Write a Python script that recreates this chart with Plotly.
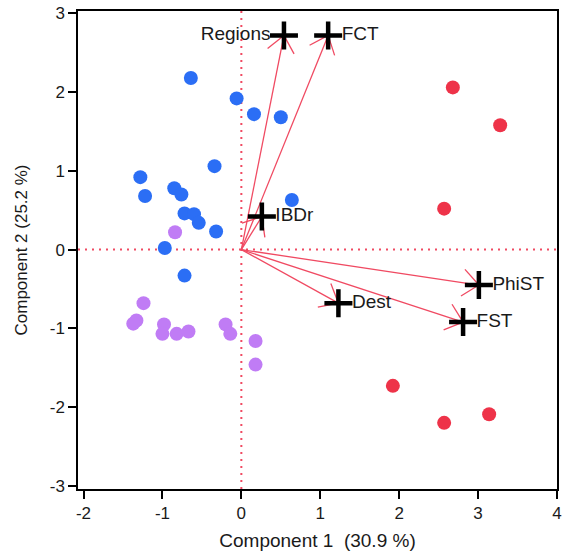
import math
import plotly.graph_objects as go

# ---- data ----
blue_x = [-0.64, -0.06, 0.16, 0.50, -0.34, -1.28, -1.22, -0.85, -0.76, -0.72, -0.60, -0.54, -0.32, -0.97, -0.72, 0.64]
blue_y = [2.18, 1.92, 1.72, 1.68, 1.06, 0.92, 0.68, 0.78, 0.70, 0.46, 0.45, 0.34, 0.23, 0.02, -0.33, 0.63]

purple_x = [-0.84, -1.24, -1.33, -1.37, -0.98, -1.00, -0.82, -0.67, -0.20, -0.14, 0.18, 0.18]
purple_y = [0.22, -0.68, -0.90, -0.94, -0.95, -1.07, -1.07, -1.04, -0.95, -1.07, -1.16, -1.46]

red_x = [2.68, 3.28, 2.57, 1.92, 2.57, 3.14]
red_y = [2.06, 1.58, 0.52, -1.73, -2.20, -2.09]

vec_names = ["Regions", "FCT", "IBDr", "PhiST", "Dest", "FST"]
vec_x = [0.54, 1.10, 0.26, 3.01, 1.23, 2.81]
vec_y = [2.72, 2.72, 0.42, -0.45, -0.68, -0.92]
vec_textpos = ["middle left", "middle right", "middle right", "middle right", "middle right", "middle right"]

x_ticks = [-2, -1, 0, 1, 2, 3, 4]
x_ticktext = ["-2", "-1", "0", "1", "2", "3", "4"]
y_ticks = [-3, -2, -1, 0, 1, 2, 3]
y_ticktext = ["-3", "-2", "-1", "0", "1", "2", "3"]

x_title = "Component 1\u00a0\u00a0(30.9\u00a0%)"
y_title = "Component 2 (25.2\u00a0%)"

# ---- layout geometry ----
W, H = 566, 559
ML, MR, MT, MB = 78, 9, 11, 70
XR = [-2.07, 4.0]
YR = [-3.04, 3.03]
px_x = (W - ML - MR) / (XR[1] - XR[0])
px_y = (H - MT - MB) / (YR[1] - YR[0])

BLUE = "#2b6ef5"
PURPLE = "#c07cf5"
RED = "#ee3349"
ARROW = "#f04a62"
TXT = "#1a1a1a"
FONT = "Liberation Sans, Arial, sans-serif"

# ---- arrows (shaft + open head) ----
head_len = 21.0
head_ang = math.radians(40)
ax, ay = [], []
for vx, vy in zip(vec_x, vec_y):
    ax += [0, vx, None]
    ay += [0, vy, None]
    th = math.atan2(vy * px_y, vx * px_x)
    for s in (1, -1):
        a = th + s * head_ang
        ex = vx - head_len * math.cos(a) / px_x
        ey = vy - head_len * math.sin(a) / px_y
        ax += [ex, vx, None]
        ay += [ey, vy, None]

fig = go.Figure()

mk = dict(size=14, line=dict(width=0))
fig.add_trace(go.Scatter(x=blue_x, y=blue_y, mode="markers", marker=dict(color=BLUE, **mk), hoverinfo="skip"))
fig.add_trace(go.Scatter(x=purple_x, y=purple_y, mode="markers", marker=dict(color=PURPLE, **mk), hoverinfo="skip"))
fig.add_trace(go.Scatter(x=red_x, y=red_y, mode="markers", marker=dict(color=RED, **mk), hoverinfo="skip"))

fig.add_trace(go.Scatter(x=ax, y=ay, mode="lines", line=dict(color=ARROW, width=1.3), hoverinfo="skip"))

fig.add_trace(go.Scatter(
    x=vec_x, y=vec_y, mode="markers+text", text=vec_names, textposition=vec_textpos,
    marker=dict(symbol="cross-thin", size=20, color="black", line=dict(width=4.5, color="black")),
    textfont=dict(size=19, color=TXT, family=FONT), hoverinfo="skip"))

fig.add_shape(type="line", xref="x", yref="paper", x0=0, x1=0, y0=0, y1=1,
              line=dict(color=ARROW, width=2, dash="2px,5px"), layer="below")
fig.add_shape(type="line", xref="paper", yref="y", x0=0, x1=1, y0=0, y1=0,
              line=dict(color=ARROW, width=2, dash="2px,5px"), layer="below")

axis_common = dict(showgrid=False, zeroline=False, showline=True, mirror=True,
                   linecolor="black", linewidth=1.5, ticks="outside", ticklen=8,
                   tickwidth=1.5, tickcolor="black", automargin=False,
                   ticklabeloverflow="allow",
                   tickfont=dict(size=17, color=TXT, family=FONT))

fig.update_layout(
    width=W, height=H, showlegend=False,
    paper_bgcolor="white", plot_bgcolor="white",
    margin=dict(l=ML, r=MR, t=MT, b=MB),
    font=dict(family=FONT, color=TXT),
    xaxis=dict(range=XR, tickvals=x_ticks, ticktext=x_ticktext,
               title=dict(text=x_title, font=dict(size=19, color=TXT, family=FONT), standoff=12),
               **axis_common),
    yaxis=dict(range=YR, tickvals=y_ticks, ticktext=y_ticktext,
               title=dict(text=y_title, font=dict(size=17, color=TXT, family=FONT), standoff=18),
               **axis_common),
)

fig.write_html("out.html", config={"displayModeBar": False},
               post_script="document.body.style.margin='0px';")
